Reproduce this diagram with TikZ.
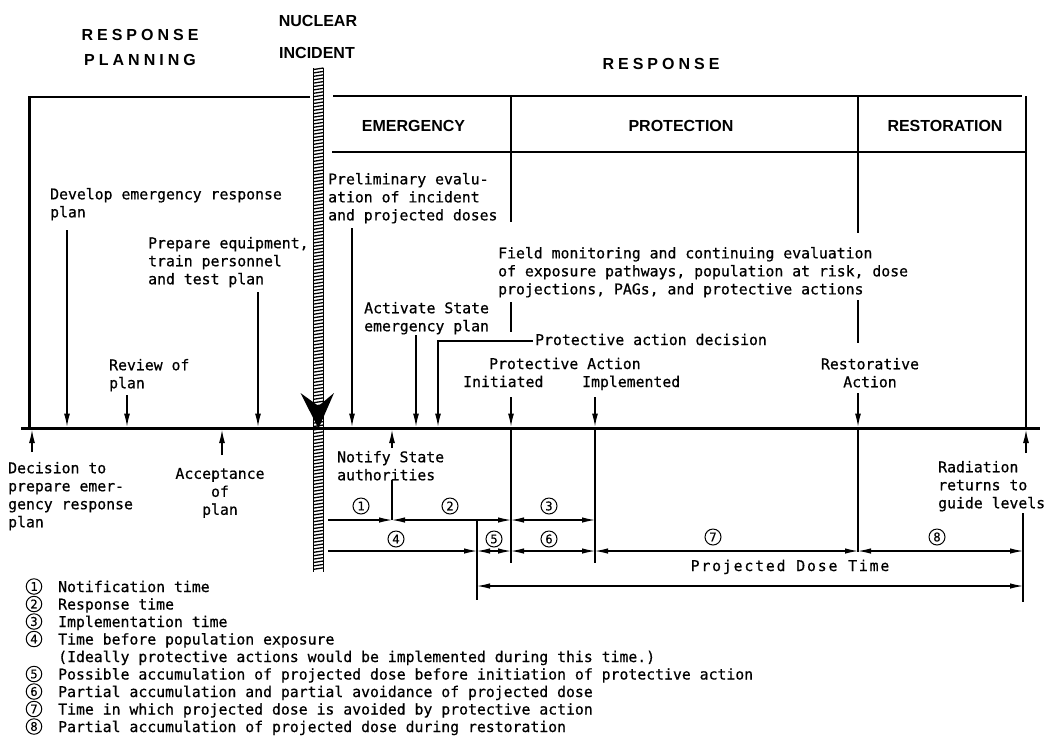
\documentclass[tikz,border=0pt]{standalone}
\usepackage{fontspec}
\usetikzlibrary{arrows.meta}
\newfontfamily\twfont{DejaVu Sans Mono}[FakeBold=0.6]
\newfontfamily\hdfont{Liberation Sans}
\newfontfamily\hdsp{Liberation Sans}[LetterSpace=25]
\newfontfamily\pdtfont{DejaVu Sans Mono}[LetterSpace=12.4,FakeBold=0.6]
\tikzset{
  tw/.style={font=\twfont\fontsize{14.8}{18}\selectfont, inner sep=0pt, align=left},
  lg/.style={font=\twfont\fontsize{14.8}{17.5}\selectfont, inner sep=0pt, anchor=base west},
  hd/.style={font=\hdfont\bfseries\fontsize{16}{19}\selectfont, inner sep=0pt},
  hdl/.style={font=\hdsp\bfseries\fontsize{16}{19}\selectfont, inner sep=0pt},
  ev/.style={line width=1.1pt, -{Latex[length=13pt,width=6pt]}},
  ln/.style={line width=1.1pt},
  one/.style={ln, -{Latex[length=13pt,width=5.5pt]}},
  two/.style={ln, {Latex[length=13pt,width=5.5pt]}-{Latex[length=13pt,width=5.5pt]}},
  num/.style={circle, draw, line width=1pt, minimum size=16pt, inner sep=0pt, font=\twfont\fontsize{12}{12}\selectfont},
}
\begin{document}
\begin{tikzpicture}[x=1pt,y=-1pt]
\fill[white] (0,0) rectangle (1047,740);
\useasboundingbox (0,0) rectangle (1047,740);

% ---------- headings
\node[hdl] (rp1) at (140,35) {RESPONSE};
\node[hdl] (rp2) at (140,60.3) {PLANNING};
\node[hd] (ni1) at (318,21) {NUCLEAR};
\node[hd] (ni2) at (317,53) {INCIDENT};
\node[hdl] (resp) at (661,64) {RESPONSE};
\node[hd] (em) at (413.5,125.7) {EMERGENCY};
\node[hd] (pr) at (681,126) {PROTECTION};
\node[hd] (rs) at (945,126) {RESTORATION};

% ---------- frame and phase dividers
\draw[line width=1.2pt] (29,97) -- (310,97);
\draw[line width=1.2pt] (333,96) -- (1022,96);
\draw[line width=1.2pt] (332,152) -- (1027,152);
\draw[line width=3pt] (29,96) -- (29,429);
\draw[line width=1.4pt] (1026,96) -- (1026,428);
\draw[ln] (511,96) -- (511,222);
\draw[ln] (511,302) -- (511,332);
\draw[ln] (858,96) -- (858,233);
\draw[ln] (858,300) -- (858,343);

% ---------- nuclear incident bar
\fill[white] (313,68) rectangle (324,572);
\draw[line width=1.3pt] (313.6,68) -- (313.6,572) (323.4,68) -- (323.4,572);
\foreach \k in {0,...,147}
  \draw[line width=1.3pt] (313.6,{69.5+3.4*\k}) -- (323.4,{68+3.4*\k});

% ---------- time axis
\draw[line width=3pt] (21,428) -- (1040,428);
\fill (300.5,393) -- (318.5,428.5) -- (334,393) -- (318.5,406) -- cycle;

% ---------- texts above the axis
\node[tw, anchor=north west] (dev) at (50,187.8) {Develop emergency response\\plan};
\node[tw, anchor=north west] (prep) at (148,236.8) {Prepare equipment,\\train personnel\\and test plan};
\node[tw, anchor=north west] (rev) at (109,358.8) {Review of\\plan};
\node[tw, anchor=north west] (prel) at (328,172.8) {Preliminary evalu-\\ation of incident\\and projected doses};
\node[tw, anchor=north west] (act) at (364,301.8) {Activate State\\emergency plan};
\node[tw, anchor=north west] (fld) at (498,246.8) {Field monitoring and continuing evaluation\\of exposure pathways, population at risk, dose\\projections, PAGs, and protective actions};
\node[tw, anchor=base west] (pad) at (535,345) {Protective action decision};
\node[tw, anchor=base west] (pa) at (489,369) {Protective Action};
\node[tw, anchor=base west] (ini) at (463,387) {Initiated};
\node[tw, anchor=base west] (imp) at (582,387) {Implemented};
\node[tw, anchor=north, align=center] (ra) at (870,357.8) {Restorative\\Action};

% ---------- texts below the axis
\node[tw, anchor=north west] (dec) at (8,461.8) {Decision to\\prepare emer-\\gency response\\plan};
\node[tw, anchor=north, align=center] (acc) at (220,467.8) {Acceptance\\of\\plan};
\node[tw, anchor=north west] (ntf) at (337,450.8) {Notify State\\authorities};
\node[tw, anchor=north west] (rad) at (938,460.8) {Radiation\\returns to\\guide levels};

% ---------- event arrows onto the axis
\foreach \n/\x/\y in {dev/67/230, rev/127/395, prep/258/292, prel/352/228, act/416/335,
                      ini/511/397, imp/595/397, ra/858/393} {
  \coordinate (s\n) at (\x,\y);
  \coordinate (e\n) at (\x,426.5);
  \draw[ev] (s\n) -- (e\n);
}
\coordinate (spad) at (533,341);
\coordinate (epad) at (438,426.5);
\draw[ev] (spad) -| (epad);
\foreach \n/\x/\y in {dec/32/452, acc/222/455, ntf/392/448, rad/1026/453} {
  \coordinate (u\n) at (\x,\y);
  \coordinate (v\n) at (\x,430);
  \draw[ev] (u\n) -- (v\n);
}

% ---------- extension lines below the axis
\coordinate (n1) at (392,480);  \coordinate (n2) at (392,520);
\coordinate (f1) at (477,520);  \coordinate (f2) at (477,600);
\coordinate (i1) at (511,429);  \coordinate (i2) at (511,563);
\coordinate (m1) at (595,429);  \coordinate (m2) at (595,563);
\coordinate (r1) at (858,429);  \coordinate (r2) at (858,552);
\coordinate (g1) at (1023,513); \coordinate (g2) at (1023,602);
\draw[ln] (n1) -- (n2);
\draw[ln] (f1) -- (f2);
\draw[ln] (i1) -- (i2);
\draw[ln] (m1) -- (m2);
\draw[ln] (r1) -- (r2);
\draw[ln] (g1) -- (g2);

% ---------- time intervals
\coordinate (a0) at (328,520);
\coordinate (b0) at (328,551);
\draw[one] (a0) -- (n2);
\draw[two] (n2) -- (511,520);
\draw[two] (511,520) -- (595,520);
\draw[one] (b0) -- (477,551);
\draw[two] (477,551) -- (511,551);
\draw[two] (511,551) -- (595,551);
\draw[two] (595,551) -- (858,551);
\draw[two] (858,551) -- (1023,551);
\draw[two] (477,586) -- (1023,586);

\node[num] (c1) at (361,506) {1};
\node[num] (c2) at (450,506) {2};
\node[num] (c3) at (549,506) {3};
\node[num] (c4) at (396,539) {4};
\node[num] (c5) at (494,539) {5};
\node[num] (c6) at (549,539) {6};
\node[num] (c7) at (713,537) {7};
\node[num] (c8) at (937,537) {8};
\node[font=\pdtfont\fontsize{14.8}{18}\selectfont, inner sep=0pt, anchor=base] (pdt) at (790,571) {Projected Dose Time};

% ---------- legend
\foreach \i/\t in {0/1, 1/2, 2/3, 3/4, 5/5, 6/6, 7/7, 8/8}
  \node[num, minimum size=15.5pt] (l\t) at (34,{586.5+17.5*\i}) {\t};
\node[lg] (lt1) at (58,592) {Notification time};
\node[lg] (lt2) at (58,609.5) {Response time};
\node[lg] (lt3) at (58,627) {Implementation time};
\node[lg] (lt4) at (58,644.5) {Time before population exposure};
\node[lg] (lt4b) at (58,662) {(Ideally protective actions would be implemented during this time.)};
\node[lg] (lt5) at (58,679.5) {Possible accumulation of projected dose before initiation of protective action};
\node[lg] (lt6) at (58,697) {Partial accumulation and partial avoidance of projected dose};
\node[lg] (lt7) at (58,714.5) {Time in which projected dose is avoided by protective action};
\node[lg] (lt8) at (58,732) {Partial accumulation of projected dose during restoration};
\end{tikzpicture}
\end{document}
